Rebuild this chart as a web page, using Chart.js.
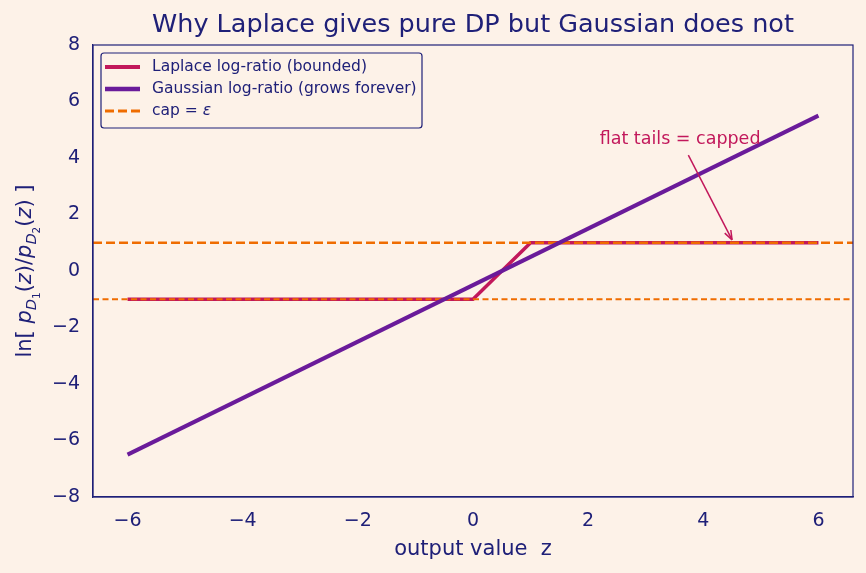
<!DOCTYPE html>
<html>
<head>
<meta charset="utf-8">
<script src="https://cdn.jsdelivr.net/npm/chart.js@4.4.1/dist/chart.umd.min.js"></script>
<style>
  html, body { margin: 0; padding: 0; background: #fdf2e8; }
  #wrap { width: 866px; height: 573px; }
</style>
</head>
<body>
<div id="wrap"><canvas id="chart" width="866" height="573"></canvas></div>
<script>
// data
const zGauss = [-6, 6];
const gaussRatio = [-6.5, 5.5];
const zLaplace = [-6, 0, 1, 6];
const laplaceRatio = [-1, -1, 1, 1];
const capX = [-6.6, 6.6];
const capUpper = [1, 1];
const capLower = [-1, -1];
const xTicks = [-6, -4, -2, 0, 2, 4, 6];
const yTicks = [-8, -6, -4, -2, 0, 2, 4, 6, 8];

const navy = '#1f2078';
const laplaceColor = '#c2185b';
const gaussColor = '#6a1b9a';
const capColor = '#ef6c00';
const font = 'DejaVu Sans';
const titleText = 'Why Laplace gives pure DP but Gaussian does not';

function pts(xs, ys) {
  return xs.map((x, i) => ({ x: x, y: ys[i] }));
}

// title centred over the plot area (matplotlib style)
const plotTitle = {
  id: 'plotTitle',
  afterDraw(chart) {
    const ctx = chart.ctx, a = chart.chartArea;
    ctx.save();
    ctx.font = '25.5px "' + font + '"';
    ctx.fillStyle = navy;
    ctx.textAlign = 'center';
    ctx.textBaseline = 'middle';
    ctx.fillText(titleText, (a.left + a.right) / 2, 25);
    ctx.restore();
  }
};

// annotation: "flat tails = capped" with arrow
const annotate = {
  id: 'annotate',
  afterDatasetsDraw(chart) {
    const ctx = chart.ctx;
    const xs = chart.scales.x, ys = chart.scales.y;
    const tx = xs.getPixelForValue(2.2), ty = ys.getPixelForValue(4.5);
    ctx.save();
    ctx.font = '17.5px "' + font + '"';
    ctx.fillStyle = laplaceColor;
    ctx.textBaseline = 'alphabetic';
    ctx.fillText('flat tails = capped', tx, ty);
    // arrow
    const x0 = xs.getPixelForValue(3.74), y0 = ys.getPixelForValue(4.1);
    const x1 = xs.getPixelForValue(4.5), y1 = ys.getPixelForValue(1.1);
    ctx.strokeStyle = laplaceColor;
    ctx.lineWidth = 1.5;
    ctx.beginPath();
    ctx.moveTo(x0, y0);
    ctx.lineTo(x1, y1);
    ctx.stroke();
    const a = Math.atan2(y1 - y0, x1 - x0);
    const L = 10;
    ctx.beginPath();
    ctx.moveTo(x1, y1);
    ctx.lineTo(x1 - L * Math.cos(a - 0.35), y1 - L * Math.sin(a - 0.35));
    ctx.moveTo(x1, y1);
    ctx.lineTo(x1 - L * Math.cos(a + 0.35), y1 - L * Math.sin(a + 0.35));
    ctx.stroke();
    ctx.restore();
  }
};

// y axis label with subscripts
const yLabel = {
  id: 'yLabel',
  afterDraw(chart) {
    const ctx = chart.ctx;
    const area = chart.chartArea;
    const parts = [
      { t: 'ln[ ', f: '21px', dy: 0 },
      { t: 'p', f: 'italic 21px', dy: 0 },
      { t: 'D', f: 'italic 14.5px', dy: 5 },
      { t: '1', f: '10.5px', dy: 9 },
      { t: '(', f: '21px', dy: 0 },
      { t: 'z', f: 'italic 21px', dy: 0 },
      { t: ')/', f: '21px', dy: 0 },
      { t: 'p', f: 'italic 21px', dy: 0 },
      { t: 'D', f: 'italic 14.5px', dy: 5 },
      { t: '2', f: '10.5px', dy: 9 },
      { t: '(', f: '21px', dy: 0 },
      { t: 'z', f: 'italic 21px', dy: 0 },
      { t: ') ]', f: '21px', dy: 0 }
    ];
    ctx.save();
    let total = 0;
    parts.forEach(p => {
      ctx.font = p.f + ' "' + font + '"';
      p.w = ctx.measureText(p.t).width;
      total += p.w;
    });
    ctx.translate(31, (area.top + area.bottom) / 2);
    ctx.rotate(-Math.PI / 2);
    ctx.fillStyle = navy;
    ctx.textBaseline = 'alphabetic';
    let x = -total / 2;
    parts.forEach(p => {
      ctx.font = p.f + ' "' + font + '"';
      ctx.fillText(p.t, x, p.dy);
      x += p.w;
    });
    ctx.restore();
  }
};

// frame on all four sides
const frame = {
  id: 'frame',
  afterDraw(chart) {
    const ctx = chart.ctx, a = chart.chartArea;
    ctx.save();
    ctx.strokeStyle = navy;
    ctx.lineWidth = 1.2;
    ctx.strokeRect(a.left, a.top, a.right - a.left, a.bottom - a.top);
    ctx.restore();
  }
};

const bg = {
  id: 'bg',
  beforeDraw(chart) {
    const ctx = chart.ctx;
    ctx.save();
    ctx.fillStyle = '#fdf2e8';
    ctx.fillRect(0, 0, chart.width, chart.height);
    ctx.restore();
  }
};

const legendBox = {
  id: 'legendBox',
  afterDraw(chart) {
    // legend drawn from the dataset list, in dataset order
    const c = chart.ctx, a = chart.chartArea;
    const items = chart.data.datasets.slice(0, 3);
    const x = a.left + 8, y = a.top + 8, w = 321, h = 75;
    c.save();
    c.fillStyle = 'rgba(253,242,232,0.85)';
    c.strokeStyle = navy;
    c.lineWidth = 1.2;
    c.beginPath();
    c.roundRect(x, y, w, h, 3);
    c.fill();
    c.stroke();
    c.textBaseline = 'middle';
    items.forEach((d, i) => {
      const yy = y + 14 + i * 22;
      c.strokeStyle = d.borderColor;
      c.lineWidth = d.borderWidth + 0.5;
      c.setLineDash(d.borderDash || []);
      c.beginPath();
      c.moveTo(x + 4, yy);
      c.lineTo(x + 39, yy);
      c.stroke();
      c.setLineDash([]);
      c.fillStyle = navy;
      // epsilon is set in italic like math text
      const k = d.label.indexOf('\u03b5');
      c.font = '15.5px "' + font + '"';
      if (k < 0) {
        c.fillText(d.label, x + 51, yy);
      } else {
        const head = d.label.slice(0, k);
        c.fillText(head, x + 51, yy);
        const hw = c.measureText(head).width;
        c.font = 'italic 15.5px "' + font + '"';
        c.fillText('\u03b5', x + 51 + hw, yy);
      }
    });
    c.restore();
  }
};

const ctx = document.getElementById('chart');
new Chart(ctx, {
  type: 'scatter',
  data: {
    datasets: [
      {
        label: 'Laplace log-ratio (bounded)',
        data: pts(zLaplace, laplaceRatio),
        showLine: true,
        borderColor: laplaceColor,
        backgroundColor: laplaceColor,
        borderWidth: 3.5,
        pointRadius: 0,
        order: 3
      },
      {
        label: 'Gaussian log-ratio (grows forever)',
        data: pts(zGauss, gaussRatio),
        showLine: true,
        borderColor: gaussColor,
        backgroundColor: gaussColor,
        borderWidth: 4,
        pointRadius: 0,
        order: 0
      },
      {
        label: 'cap = \u03b5',
        data: pts(capX, capUpper),
        showLine: true,
        borderColor: capColor,
        backgroundColor: capColor,
        borderWidth: 2.5,
        borderDash: [9, 4],
        pointRadius: 0,
        order: 1
      },
      {
        label: 'cap lower',
        data: pts(capX, capLower),
        showLine: true,
        borderColor: capColor,
        backgroundColor: capColor,
        borderWidth: 1.8,
        borderDash: [6, 3.5],
        pointRadius: 0,
        order: 2
      }
    ]
  },
  options: {
    responsive: false,
    animation: false,
    layout: { padding: { left: 0, right: 13, top: 45, bottom: 0 } },
    plugins: {
      tooltip: { enabled: false },
      title: { display: false },
      legend: { display: false }
    },
    scales: {
      x: {
        type: 'linear',
        min: -6.6,
        max: 6.6,
        afterBuildTicks(scale) {
          scale.ticks = xTicks.map(v => ({ value: v }));
        },
        afterFit(scale) { scale.height = 76; },
        grid: { display: false, drawTicks: true, tickLength: 6, tickColor: navy },
        border: { display: true, color: navy, width: 1.2 },
        ticks: {
          color: navy,
          font: { family: font, size: 19 },
          padding: 7,
          maxRotation: 0,
          callback: v => String(v).replace('-', '\u2212')
        },
        title: {
          display: true,
          text: 'output value  z',
          color: navy,
          font: { family: font, size: 21 },
          padding: { top: 2, bottom: 11 }
        }
      },
      y: {
        type: 'linear',
        min: -8,
        max: 8,
        afterBuildTicks(scale) {
          scale.ticks = yTicks.map(v => ({ value: v }));
        },
        afterFit(scale) { scale.width = 93; },
        grid: { display: false, drawTicks: true, tickLength: 6, tickColor: navy },
        border: { display: true, color: navy, width: 1.2 },
        ticks: {
          color: navy,
          font: { family: font, size: 19 },
          padding: 7,
          callback: v => String(v).replace('-', '\u2212')
        }
      }
    }
  },
  plugins: [bg, annotate, yLabel, frame, legendBox, plotTitle]
});
</script>
</body>
</html>
